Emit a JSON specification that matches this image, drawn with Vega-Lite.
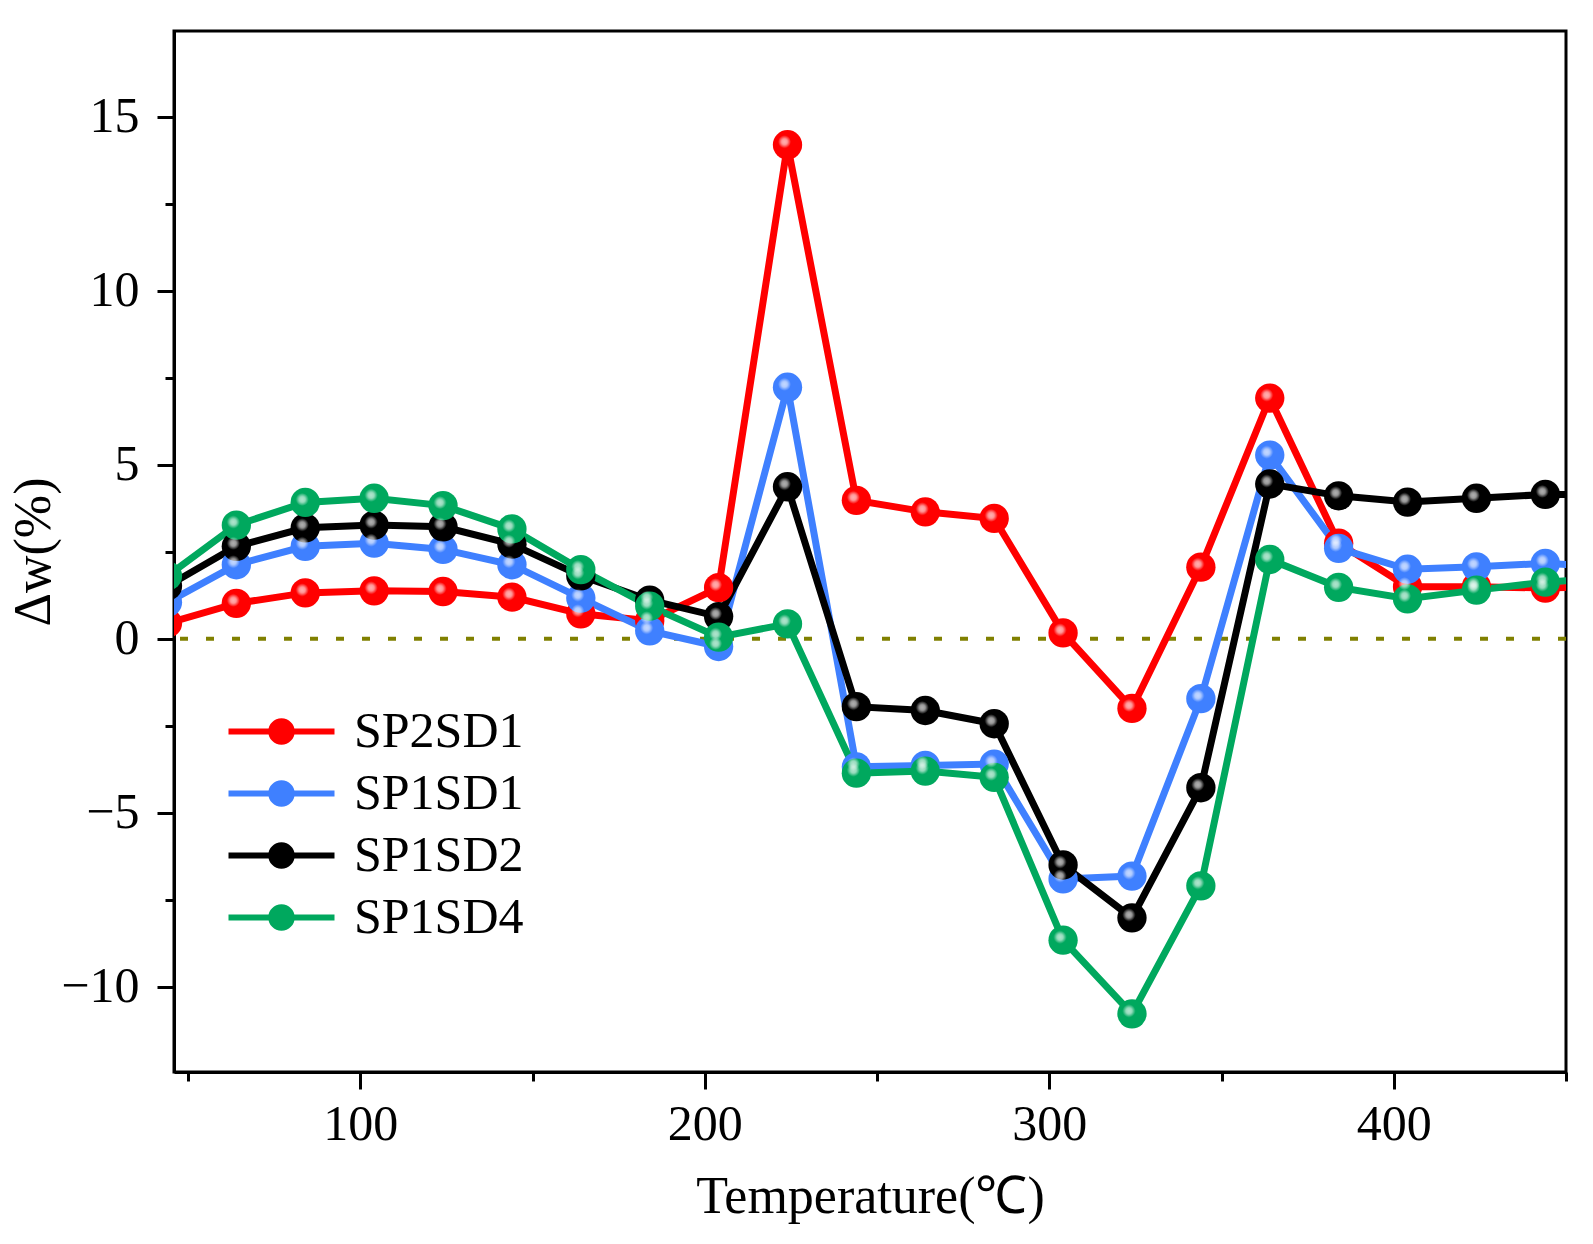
{
  "$schema": "https://vega.github.io/schema/vega-lite/v6.json",
  "width": 1392,
  "height": 1041,
  "autosize": {"type": "none"},
  "padding": {"left": 174, "top": 31, "right": 27, "bottom": 172},
  "background": "white",
  "config": {
    "view": {"stroke": "black", "strokeWidth": 3},
    "font": "Liberation Serif",
    "axis": {
      "grid": false,
      "domainColor": "black",
      "domainWidth": 3,
      "tickColor": "black",
      "tickWidth": 3,
      "labelFont": "Liberation Serif",
      "labelFontSize": 50,
      "labelColor": "black",
      "titleFont": "Liberation Serif",
      "titleFontSize": 52,
      "titleFontWeight": "normal",
      "titleColor": "black"
    },
    "legend": {
      "labelFont": "Liberation Serif",
      "labelFontSize": 50,
      "labelColor": "black",
      "labelLimit": 0,
      "padding": 0
    }
  },
  "datasets": {
    "dw": [
      {"T": 44, "s": "SP2SD1", "w": 0.45},
      {"T": 64, "s": "SP2SD1", "w": 1.02},
      {"T": 84, "s": "SP2SD1", "w": 1.32},
      {"T": 104, "s": "SP2SD1", "w": 1.38},
      {"T": 124, "s": "SP2SD1", "w": 1.36},
      {"T": 144, "s": "SP2SD1", "w": 1.2},
      {"T": 164, "s": "SP2SD1", "w": 0.72},
      {"T": 184, "s": "SP2SD1", "w": 0.52},
      {"T": 204, "s": "SP2SD1", "w": 1.47},
      {"T": 224, "s": "SP2SD1", "w": 14.2},
      {"T": 244, "s": "SP2SD1", "w": 3.98},
      {"T": 264, "s": "SP2SD1", "w": 3.65},
      {"T": 284, "s": "SP2SD1", "w": 3.46},
      {"T": 304, "s": "SP2SD1", "w": 0.17},
      {"T": 324, "s": "SP2SD1", "w": -2.0},
      {"T": 344, "s": "SP2SD1", "w": 2.06},
      {"T": 364, "s": "SP2SD1", "w": 6.92},
      {"T": 384, "s": "SP2SD1", "w": 2.75},
      {"T": 404, "s": "SP2SD1", "w": 1.5},
      {"T": 424, "s": "SP2SD1", "w": 1.5},
      {"T": 444, "s": "SP2SD1", "w": 1.46},
      {"T": 464, "s": "SP2SD1", "w": 1.5},
      {"T": 44, "s": "SP1SD1", "w": 1.05},
      {"T": 64, "s": "SP1SD1", "w": 2.13},
      {"T": 84, "s": "SP1SD1", "w": 2.66},
      {"T": 104, "s": "SP1SD1", "w": 2.75},
      {"T": 124, "s": "SP1SD1", "w": 2.57},
      {"T": 144, "s": "SP1SD1", "w": 2.13},
      {"T": 164, "s": "SP1SD1", "w": 1.17},
      {"T": 184, "s": "SP1SD1", "w": 0.23},
      {"T": 204, "s": "SP1SD1", "w": -0.22},
      {"T": 224, "s": "SP1SD1", "w": 7.23},
      {"T": 244, "s": "SP1SD1", "w": -3.68},
      {"T": 264, "s": "SP1SD1", "w": -3.64},
      {"T": 284, "s": "SP1SD1", "w": -3.6},
      {"T": 304, "s": "SP1SD1", "w": -6.9},
      {"T": 324, "s": "SP1SD1", "w": -6.82},
      {"T": 344, "s": "SP1SD1", "w": -1.72},
      {"T": 364, "s": "SP1SD1", "w": 5.28},
      {"T": 384, "s": "SP1SD1", "w": 2.6},
      {"T": 404, "s": "SP1SD1", "w": 2.0},
      {"T": 424, "s": "SP1SD1", "w": 2.07},
      {"T": 444, "s": "SP1SD1", "w": 2.17},
      {"T": 464, "s": "SP1SD1", "w": 2.05},
      {"T": 44, "s": "SP1SD2", "w": 1.52},
      {"T": 64, "s": "SP1SD2", "w": 2.66},
      {"T": 84, "s": "SP1SD2", "w": 3.19},
      {"T": 104, "s": "SP1SD2", "w": 3.27},
      {"T": 124, "s": "SP1SD2", "w": 3.22},
      {"T": 144, "s": "SP1SD2", "w": 2.72},
      {"T": 164, "s": "SP1SD2", "w": 1.81},
      {"T": 184, "s": "SP1SD2", "w": 1.11},
      {"T": 204, "s": "SP1SD2", "w": 0.64},
      {"T": 224, "s": "SP1SD2", "w": 4.37},
      {"T": 244, "s": "SP1SD2", "w": -1.95},
      {"T": 264, "s": "SP1SD2", "w": -2.06},
      {"T": 284, "s": "SP1SD2", "w": -2.44},
      {"T": 304, "s": "SP1SD2", "w": -6.5},
      {"T": 324, "s": "SP1SD2", "w": -8.02},
      {"T": 344, "s": "SP1SD2", "w": -4.28},
      {"T": 364, "s": "SP1SD2", "w": 4.45},
      {"T": 384, "s": "SP1SD2", "w": 4.11},
      {"T": 404, "s": "SP1SD2", "w": 3.93},
      {"T": 424, "s": "SP1SD2", "w": 4.04},
      {"T": 444, "s": "SP1SD2", "w": 4.15},
      {"T": 464, "s": "SP1SD2", "w": 4.15},
      {"T": 44, "s": "SP1SD4", "w": 1.81},
      {"T": 64, "s": "SP1SD4", "w": 3.27},
      {"T": 84, "s": "SP1SD4", "w": 3.92},
      {"T": 104, "s": "SP1SD4", "w": 4.04},
      {"T": 124, "s": "SP1SD4", "w": 3.83},
      {"T": 144, "s": "SP1SD4", "w": 3.16},
      {"T": 164, "s": "SP1SD4", "w": 1.99},
      {"T": 184, "s": "SP1SD4", "w": 0.94},
      {"T": 204, "s": "SP1SD4", "w": 0.05},
      {"T": 224, "s": "SP1SD4", "w": 0.43},
      {"T": 244, "s": "SP1SD4", "w": -3.86},
      {"T": 264, "s": "SP1SD4", "w": -3.8},
      {"T": 284, "s": "SP1SD4", "w": -3.98},
      {"T": 304, "s": "SP1SD4", "w": -8.66},
      {"T": 324, "s": "SP1SD4", "w": -10.78},
      {"T": 344, "s": "SP1SD4", "w": -7.1},
      {"T": 364, "s": "SP1SD4", "w": 2.28},
      {"T": 384, "s": "SP1SD4", "w": 1.48},
      {"T": 404, "s": "SP1SD4", "w": 1.15},
      {"T": 424, "s": "SP1SD4", "w": 1.4},
      {"T": 444, "s": "SP1SD4", "w": 1.63},
      {"T": 464, "s": "SP1SD4", "w": 1.75}
    ],
    "zero": [{"level": 0}]
  },
  "layer": [
    {
      "data": {"name": "zero"},
      "mark": {"type": "rule", "color": "#808000", "strokeWidth": 4, "strokeDash": [8, 18]},
      "encoding": {
        "y": {
          "field": "level",
          "type": "quantitative",
          "scale": {"domain": [-12.45, 17.47], "nice": false, "zero": false},
          "axis": {
            "title": "Δw(%)",
            "values": [-10, -7.5, -5, -2.5, 0, 2.5, 5, 7.5, 10, 12.5, 15],
            "labelExpr": "datum.value % 5 === 0 ? datum.label : ''",
            "tickSize": {"condition": {"test": "datum.value % 5 === 0", "value": 17}, "value": 9},
            "labelPadding": 18,
            "titlePadding": 0
          }
        }
      }
    },
    {
      "data": {"name": "dw"},
      "encoding": {
        "x": {
          "field": "T",
          "type": "quantitative",
          "scale": {"domain": [45.9, 450], "nice": false, "zero": false},
          "axis": {
            "title": "Temperature(℃)",
            "values": [50, 100, 150, 200, 250, 300, 350, 400, 450],
            "labelExpr": "datum.value % 100 === 0 ? datum.label : ''",
            "tickSize": {"condition": {"test": "datum.value % 100 === 0", "value": 17}, "value": 9},
            "labelPadding": 10,
            "titlePadding": 22
          }
        },
        "y": {"field": "w", "type": "quantitative"},
        "color": {
          "field": "s",
          "type": "nominal",
          "scale": {
            "domain": ["SP2SD1", "SP1SD1", "SP1SD2", "SP1SD4"],
            "range": ["#FF0000", "#3F80FF", "#000000", "#00A85E"]
          },
          "legend": {
            "title": null,
            "orient": "none",
            "legendX": 81,
            "legendY": 674,
            "symbolType": "M-2,-0.113L2,-0.113L2,0.113L-2,0.113ZM0.5,0A0.5,0.5,0,1,1,-0.5,0A0.5,0.5,0,1,1,0.5,0Z",
            "symbolSize": 2809,
            "symbolStrokeWidth": 0,
            "symbolOpacity": 1,
            "rowPadding": 10,
            "labelOffset": 46
          }
        }
      },
      "layer": [
        {"mark": {"type": "line", "strokeWidth": 7, "clip": true}},
        {"mark": {"type": "point", "filled": true, "opacity": 1, "size": 860, "clip": true}},
        {
          "mark": {
            "type": "point",
            "filled": true,
            "size": 170,
            "clip": true,
            "xOffset": -3,
            "yOffset": -3,
            "fill": {
              "gradient": "radial",
              "x1": 0.5, "y1": 0.5, "r1": 0,
              "x2": 0.5, "y2": 0.5, "r2": 0.5,
              "stops": [
                {"offset": 0, "color": "#ffffff"},
                {"offset": 0.45, "color": "rgba(255,255,255,0.85)"},
                {"offset": 1, "color": "rgba(255,255,255,0)"}
              ]
            }
          },
          "encoding": {"color": {"value": null}}
        }
      ]
    }
  ]
}
